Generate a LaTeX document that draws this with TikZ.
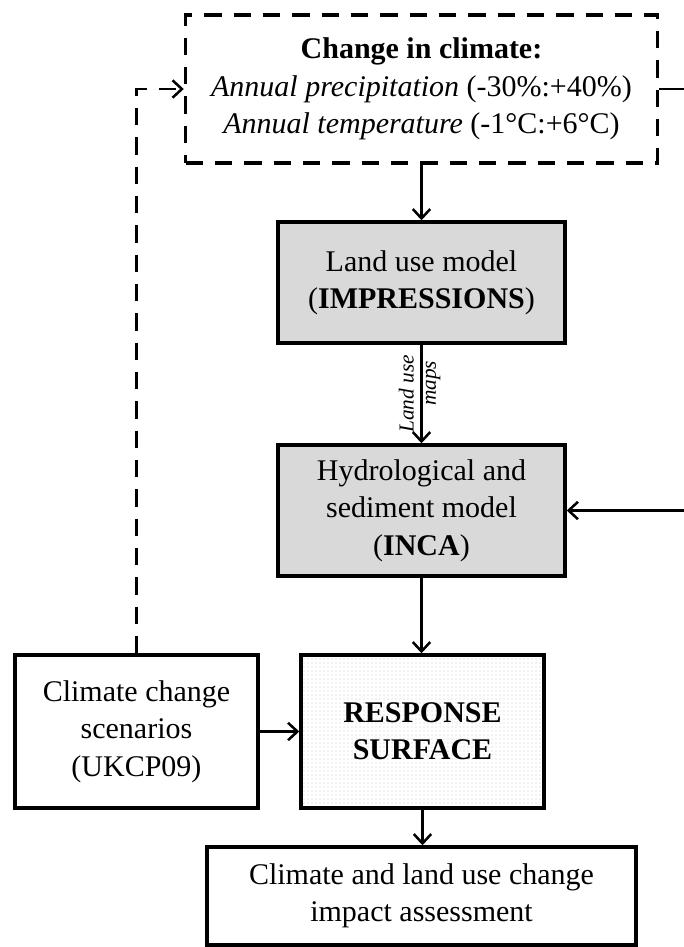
\documentclass[tikz,border=0pt]{standalone}
\usepackage{fontspec}
\setmainfont{Liberation Serif}
\usetikzlibrary{arrows.meta,patterns,calc}
\definecolor{boxgrey}{RGB}{217,217,217}
\begin{document}
\begin{tikzpicture}[x=0.75pt,y=-0.75pt,
  box/.style={draw,line width=2.6pt,inner sep=0pt,align=center,
    font=\fontsize{22.5}{28}\selectfont},
  greybox/.style={box,fill=boxgrey},
  dashbox/.style={box,dash pattern=on 13pt off 9pt},
  conn/.style={line width=1.9pt},
  arr/.style={conn,-{Straight Barb[length=7pt,width=13pt]}},
  dasharr/.style={arr,dash pattern=on 13pt off 9pt},
  maplabel/.style={rotate=90,inner sep=1pt,font=\itshape\fontsize{16}{16}\selectfont}
]
\useasboundingbox (0,0) rectangle (684,947);

\node[dashbox,minimum width=354pt,minimum height=111pt] (clim) at (421.5,89)
  {\textbf{Change in climate:}\\
   \textit{Annual precipitation} (-30\%:+40\%)\\
   \textit{Annual temperature} (-1°C:+6°C)};

\node[greybox,minimum width=215.25pt,minimum height=90.75pt] (lu) at (421.5,282.5)
  {Land use model\\ (\textbf{IMPRESSIONS})};

\node[greybox,minimum width=215.25pt,minimum height=98.25pt] (hy) at (421.5,510.5)
  {Hydrological and\\ sediment model\\ (\textbf{INCA})};

\node[box,pattern=dots,pattern color=black!22,minimum width=182.25pt,minimum height=114.75pt] (rs) at (422.5,731.5)
  {\textbf{RESPONSE}\\ \textbf{SURFACE}};

\node[box,minimum width=182.25pt,minimum height=114.75pt] (sc) at (136.5,731.5)
  {Climate change\\ scenarios\\ (UKCP09)};

\node[box,minimum width=321.75pt,minimum height=73.5pt] (as) at (421.5,896)
  {Climate and land use change\\ impact assessment};

\coordinate (mid) at ($(lu.south)!0.5!(hy.north)$);
\node[maplabel,anchor=south] (lul) at ([xshift=-4.5pt]mid) {Land use};
\node[maplabel,anchor=north] (lur) at ([xshift=2pt,yshift=8pt]mid) {maps};

\coordinate (eR1) at (684,89);
\coordinate (eR2) at (684,510.5);

\draw[arr] (clim.south) -- (lu.north);
\draw[arr] (lu.south) -- (hy.north);
\draw[arr] (hy.south) -- (hy.south |- rs.north);
\draw[arr] (rs.south) -- (rs.south |- as.north);
\draw[arr] (sc.east) -- (rs.west);
\draw[conn] (clim.east) -- (eR1);
\draw[arr] (eR2) -- (hy.east);
\draw[dasharr] (sc.north) |- (clim.west);
\end{tikzpicture}
\end{document}
